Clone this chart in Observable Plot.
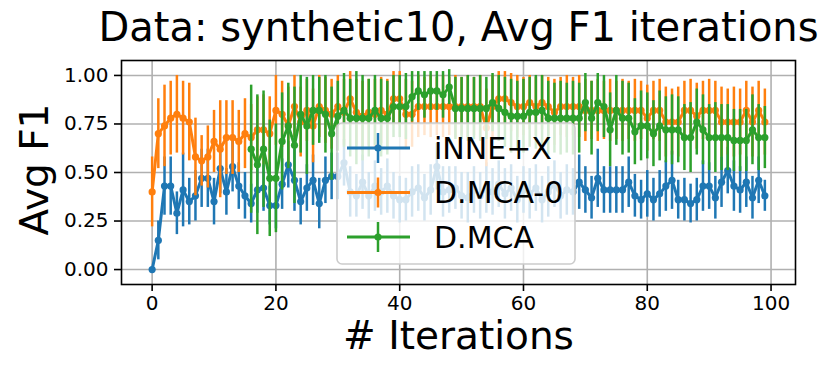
<!DOCTYPE html>
<html>
<head>
<meta charset="utf-8">
<script src="https://cdn.jsdelivr.net/npm/d3@7"></script>
<script src="https://cdn.jsdelivr.net/npm/@observablehq/plot@0.6"></script>
<style>
  html, body { margin: 0; padding: 0; background: #fff; }
  #wrap { position: relative; width: 831px; height: 374px; font-family: "DejaVu Sans", sans-serif; }
  #legend { position: absolute; left: 336px; top: 122px; }
</style>
</head>
<body>
<div id="wrap"><div id="chart"></div><div id="legend"></div></div>
<script>
const title = "Data: synthetic10, Avg F1 iterations";
const xLabel = "# Iterations";
const yLabel = "Avg F1";
const seriesNames = ["iNNE+X", "D.MCA-0", "D.MCA"];
const seriesColors = ["#1f77b4", "#ff7f0e", "#2ca02c"];
const xTicks = [0, 20, 40, 60, 80, 100];
const yTicks = [0, 0.25, 0.5, 0.75, 1.0];

const iterations = d3.range(100);

const inneMean = [
  0.00, 0.15, 0.43, 0.43, 0.29, 0.41, 0.35, 0.38, 0.47, 0.47,
  0.35, 0.52, 0.40, 0.53, 0.43, 0.38, 0.34, 0.41, 0.42, 0.33,
  0.33, 0.44, 0.54, 0.46, 0.35, 0.42, 0.46, 0.34, 0.46, 0.48,
  0.48, 0.55, 0.40, 0.38, 0.45, 0.38, 0.43, 0.40, 0.43, 0.38,
  0.36, 0.36, 0.40, 0.42, 0.37, 0.41, 0.53, 0.40, 0.41, 0.42,
  0.38, 0.37, 0.41, 0.38, 0.42, 0.40, 0.44, 0.39, 0.42, 0.36,
  0.41, 0.39, 0.42, 0.36, 0.40, 0.44, 0.38, 0.41, 0.40, 0.45,
  0.41, 0.37, 0.47, 0.41, 0.41, 0.41, 0.41, 0.45, 0.38, 0.36,
  0.39, 0.36, 0.39, 0.43, 0.46, 0.36, 0.36, 0.34, 0.36, 0.43,
  0.43, 0.37, 0.45, 0.51, 0.43, 0.41, 0.45, 0.37, 0.46, 0.38
];
const inneErr = [
  0.00, 0.10, 0.15, 0.15, 0.11, 0.19, 0.12, 0.13, 0.15, 0.15,
  0.12, 0.13, 0.12, 0.13, 0.12, 0.12, 0.10, 0.12, 0.12, 0.10,
  0.12, 0.13, 0.12, 0.16, 0.12, 0.12, 0.13, 0.13, 0.12, 0.12,
  0.12, 0.12, 0.13, 0.11, 0.14, 0.12, 0.13, 0.12, 0.14, 0.12,
  0.12, 0.11, 0.13, 0.12, 0.12, 0.13, 0.12, 0.13, 0.12, 0.11,
  0.12, 0.13, 0.12, 0.12, 0.13, 0.12, 0.12, 0.13, 0.12, 0.12,
  0.12, 0.13, 0.12, 0.12, 0.13, 0.12, 0.12, 0.13, 0.12, 0.14,
  0.12, 0.11, 0.15, 0.12, 0.12, 0.12, 0.12, 0.13, 0.11, 0.10,
  0.12, 0.11, 0.12, 0.13, 0.15, 0.10, 0.11, 0.10, 0.11, 0.13,
  0.12, 0.11, 0.13, 0.12, 0.13, 0.12, 0.13, 0.11, 0.12, 0.08
];
const dmca0Mean = [
  0.40, 0.70, 0.74, 0.78, 0.80, 0.78, 0.76, 0.58, 0.56, 0.58,
  0.66, 0.62, 0.68, 0.68, 0.66, 0.70, 0.68, 0.72, 0.72, 0.70,
  0.82, 0.80, 0.74, 0.84, 0.76, 0.82, 0.74, 0.84, 0.82, 0.80,
  0.84, 0.81, 0.88, 0.81, 0.79, 0.81, 0.80, 0.82, 0.80, 0.88,
  0.88, 0.80, 0.80, 0.84, 0.84, 0.84, 0.84, 0.84, 0.84, 0.84,
  0.84, 0.84, 0.84, 0.84, 0.73, 0.84, 0.88, 0.88, 0.86, 0.84,
  0.84, 0.86, 0.84, 0.86, 0.84, 0.81, 0.84, 0.84, 0.84, 0.84,
  0.82, 0.82, 0.82, 0.82, 0.82, 0.82, 0.82, 0.82, 0.82, 0.82,
  0.78, 0.82, 0.82, 0.76, 0.76, 0.76, 0.82, 0.82, 0.79, 0.82,
  0.82, 0.82, 0.76, 0.76, 0.76, 0.76, 0.82, 0.76, 0.82, 0.76
];
const dmca0Err = [
  0.18, 0.18, 0.21, 0.19, 0.20, 0.19, 0.20, 0.20, 0.13, 0.16,
  0.16, 0.25, 0.19, 0.19, 0.16, 0.18, 0.17, 0.17, 0.18, 0.19,
  0.18, 0.17, 0.20, 0.16, 0.18, 0.16, 0.19, 0.16, 0.17, 0.18,
  0.16, 0.17, 0.14, 0.17, 0.18, 0.17, 0.18, 0.17, 0.18, 0.14,
  0.14, 0.18, 0.17, 0.16, 0.15, 0.16, 0.15, 0.16, 0.15, 0.16,
  0.15, 0.16, 0.15, 0.16, 0.20, 0.16, 0.14, 0.14, 0.15, 0.16,
  0.15, 0.14, 0.15, 0.14, 0.15, 0.17, 0.15, 0.16, 0.15, 0.16,
  0.16, 0.15, 0.16, 0.15, 0.16, 0.15, 0.16, 0.15, 0.16, 0.15,
  0.17, 0.15, 0.16, 0.18, 0.17, 0.18, 0.15, 0.16, 0.17, 0.15,
  0.16, 0.15, 0.18, 0.17, 0.18, 0.17, 0.15, 0.18, 0.15, 0.17
];
const dmcaMean = [
  null, null, null, null, null, null, null, null, null, null,
  null, null, null, null, null, null, 0.62, 0.54, 0.62, 0.47,
  0.47, 0.66, 0.74, 0.64, 0.80, 0.74, 0.82, 0.82, 0.80, 0.70,
  0.79, 0.82, 0.78, 0.78, 0.78, 0.78, 0.82, 0.78, 0.78, 0.84,
  0.84, 0.84, 0.89, 0.92, 0.90, 0.92, 0.92, 0.90, 0.94, 0.83,
  0.83, 0.83, 0.83, 0.83, 0.83, 0.86, 0.83, 0.81, 0.79, 0.79,
  0.79, 0.81, 0.81, 0.82, 0.78, 0.78, 0.78, 0.78, 0.78, 0.78,
  0.86, 0.78, 0.86, 0.84, 0.72, 0.82, 0.78, 0.78, 0.71, 0.74,
  0.74, 0.70, 0.74, 0.72, 0.72, 0.72, 0.68, 0.68, 0.76, 0.72,
  0.68, 0.68, 0.68, 0.68, 0.665, 0.665, 0.665, 0.72, 0.68, 0.68
];
const dmcaErr = [
  null, null, null, null, null, null, null, null, null, null,
  null, null, null, null, null, null, 0.33, 0.36, 0.30, 0.30,
  0.28, 0.25, 0.22, 0.30, 0.20, 0.25, 0.18, 0.17, 0.20, 0.24,
  0.18, 0.19, 0.20, 0.24, 0.22, 0.20, 0.18, 0.20, 0.19, 0.16,
  0.16, 0.17, 0.13, 0.10, 0.12, 0.10, 0.10, 0.12, 0.09, 0.16,
  0.16, 0.17, 0.16, 0.17, 0.16, 0.15, 0.17, 0.18, 0.19, 0.18,
  0.19, 0.18, 0.19, 0.18, 0.19, 0.18, 0.19, 0.18, 0.19, 0.18,
  0.15, 0.19, 0.15, 0.16, 0.19, 0.18, 0.19, 0.18, 0.17, 0.18,
  0.17, 0.17, 0.18, 0.17, 0.18, 0.17, 0.17, 0.18, 0.17, 0.18,
  0.17, 0.18, 0.17, 0.17, 0.16, 0.16, 0.16, 0.18, 0.17, 0.16
];

const means = [inneMean, dmca0Mean, dmcaMean];
const errs = [inneErr, dmca0Err, dmcaErr];

const tables = seriesNames.map((name, s) =>
  iterations
    .map((it, i) => ({x: it, y: means[s][i], e: errs[s][i], series: name}))
    .filter(d => d.y != null)
);

const FONT = "DejaVu Sans";
const seriesMarks = tables.flatMap((t, s) => [
  Plot.ruleX(t, {x: "x", y1: d => d.y - d.e, y2: d => d.y + d.e, stroke: seriesColors[s], strokeWidth: 2.5}),
  Plot.line(t, {x: "x", y: "y", stroke: seriesColors[s], strokeWidth: 3}),
  Plot.dot(t, {x: "x", y: "y", fill: seriesColors[s], r: 3.6, stroke: "none"})
]);

const chart = Plot.plot({
  width: 831,
  height: 374,
  marginLeft: 121,
  marginRight: 36,
  marginTop: 60,
  marginBottom: 90,
  style: {fontFamily: FONT, background: "white", color: "black", overflow: "visible"},
  x: {domain: [-4.95, 103.95], label: null},
  y: {domain: [-0.077, 1.077], label: null},
  marks: [
    Plot.gridX({ticks: xTicks, stroke: "#b0b0b0", strokeOpacity: 1, strokeWidth: 1.6}),
    Plot.gridY({ticks: yTicks, stroke: "#b0b0b0", strokeOpacity: 1, strokeWidth: 1.6}),
    ...seriesMarks,
    Plot.frame({stroke: "black", strokeWidth: 1.6}),
    Plot.axisX({ticks: xTicks, tickSize: 7, tickPadding: 4, fontSize: 20, strokeWidth: 1.6, label: null}),
    Plot.axisY({ticks: yTicks, tickFormat: d3.format(".2f"), tickSize: 7, tickPadding: 6, fontSize: 20, strokeWidth: 1.6, label: null}),
    Plot.text([title], {text: d => d, frameAnchor: "top", dy: -32, fontSize: 40, lineAnchor: "middle", fill: "black"}),
    Plot.text([xLabel], {text: d => d, frameAnchor: "bottom", dy: 52, fontSize: 39, lineAnchor: "middle", fill: "black"}),
    Plot.text([yLabel], {text: d => d, frameAnchor: "left", dx: -86, dy: -3, rotate: -90, textAnchor: "middle", fontSize: 39, lineAnchor: "middle", fill: "black"})
  ]
});
document.getElementById("chart").appendChild(chart);

// Legend (matplotlib-style, semi-transparent box over the plot)
const lgW = 238, lgH = 141, rowH = 44.5;
const lg = d3.select("#legend").append("svg")
  .attr("width", lgW + 4).attr("height", lgH + 4)
  .style("font-family", FONT);
lg.append("rect")
  .attr("x", 1).attr("y", 1).attr("width", lgW).attr("height", lgH)
  .attr("rx", 5).attr("ry", 5)
  .attr("fill", "white").attr("fill-opacity", 0.8)
  .attr("stroke", "#cccccc").attr("stroke-width", 1.6);
seriesNames.forEach((name, s) => {
  const cy = 26 + s * rowH;
  const g = lg.append("g");
  g.append("line").attr("x1", 11).attr("x2", 74).attr("y1", cy).attr("y2", cy)
    .attr("stroke", seriesColors[s]).attr("stroke-width", 3);
  g.append("line").attr("x1", 42).attr("x2", 42).attr("y1", cy - 15).attr("y2", cy + 15)
    .attr("stroke", seriesColors[s]).attr("stroke-width", 2.5);
  g.append("circle").attr("cx", 42).attr("cy", cy).attr("r", 3.6).attr("fill", seriesColors[s]);
  g.append("text").attr("x", 98).attr("y", cy).attr("dy", "0.36em")
    .attr("font-size", 30).attr("fill", "black").text(name);
});
</script>
</body>
</html>
